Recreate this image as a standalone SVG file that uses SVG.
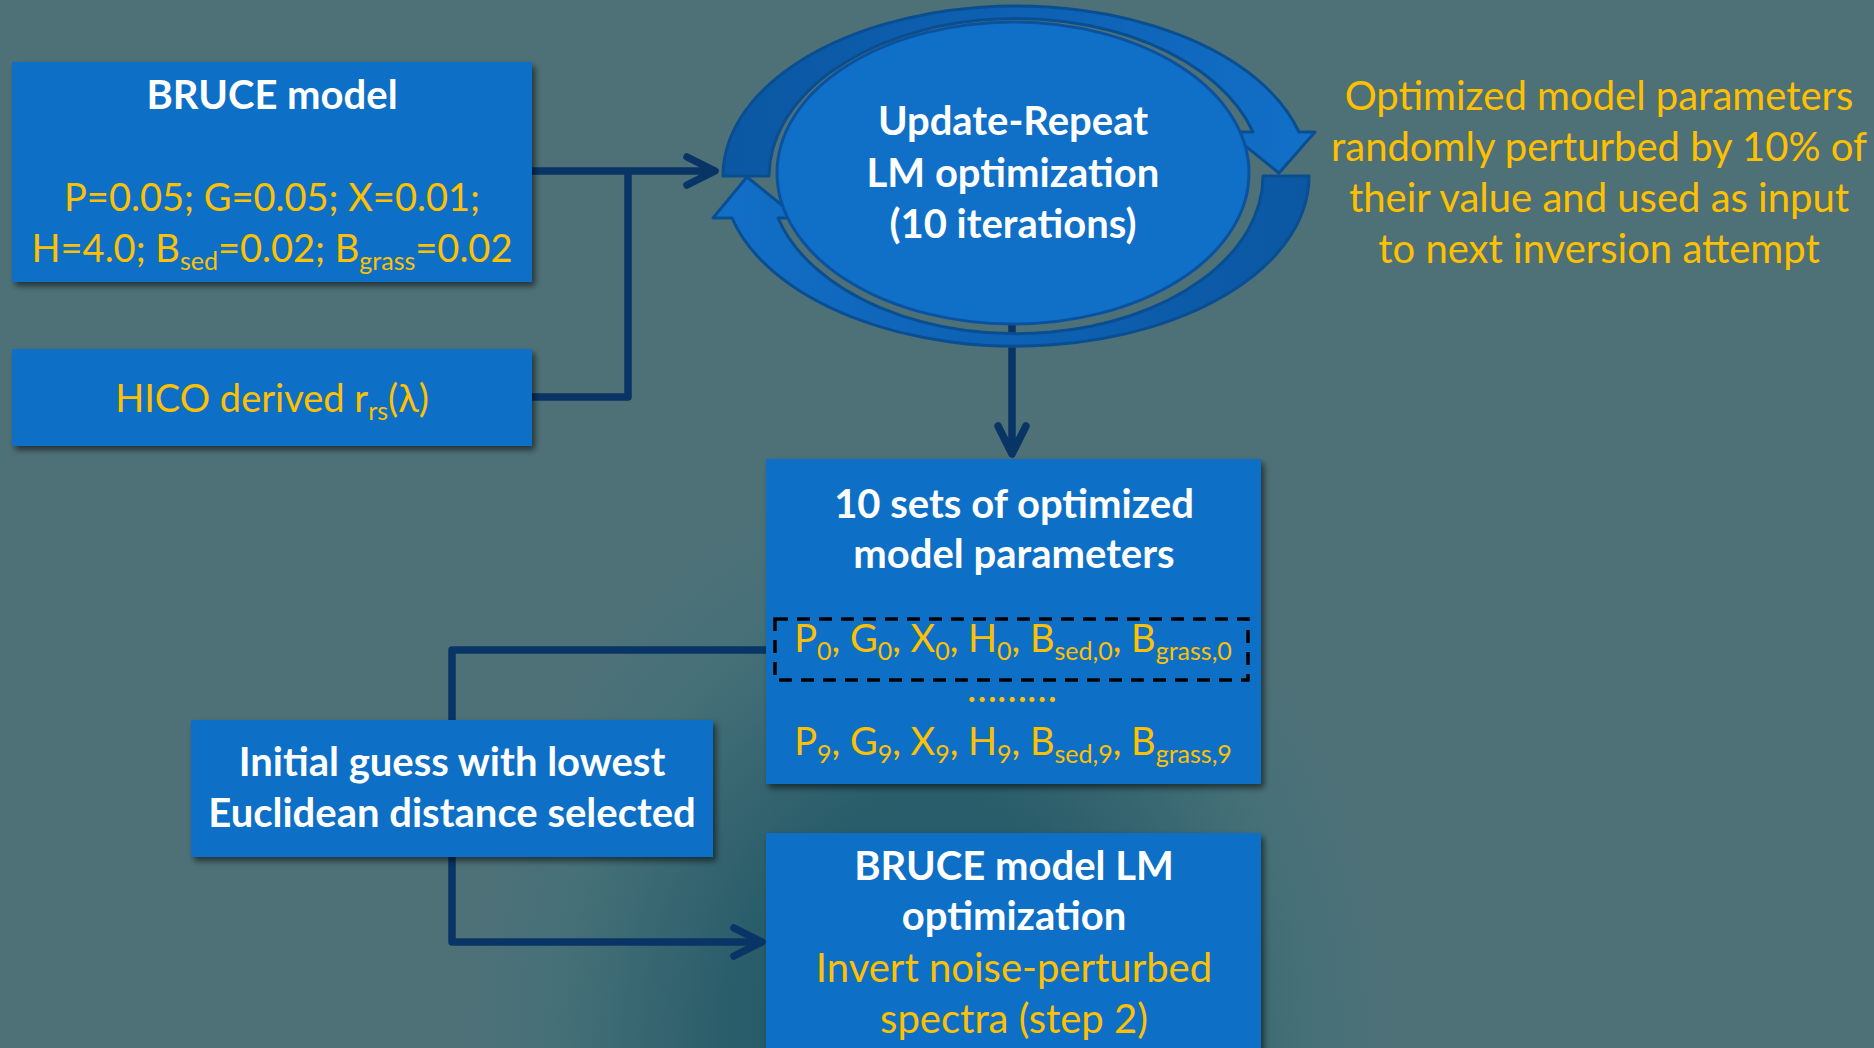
<svg xmlns="http://www.w3.org/2000/svg" width="1874" height="1048" viewBox="0 0 1874 1048">
<defs>
<radialGradient id="bgGlow" gradientUnits="userSpaceOnUse" cx="0" cy="0" r="1" gradientTransform="translate(930,1048) scale(470,580)">
<stop offset="0" stop-color="#1A5163"/>
<stop offset="0.45" stop-color="#2B5E6B"/>
<stop offset="0.8" stop-color="#467078"/>
<stop offset="1" stop-color="#4E7177"/>
</radialGradient>
<linearGradient id="arcTop" gradientUnits="userSpaceOnUse" x1="723" y1="0" x2="1315" y2="0">
<stop offset="0" stop-color="#0B57A2"/>
<stop offset="0.6" stop-color="#0E63B6"/>
<stop offset="1" stop-color="#1270C8"/>
</linearGradient>
<linearGradient id="arcBot" gradientUnits="userSpaceOnUse" x1="1315" y1="0" x2="713" y2="0">
<stop offset="0" stop-color="#0B57A2"/>
<stop offset="0.6" stop-color="#0E63B6"/>
<stop offset="1" stop-color="#1270C8"/>
</linearGradient>
<filter id="shadow" x="-10%" y="-10%" width="125%" height="130%">
<feGaussianBlur in="SourceAlpha" stdDeviation="3"/>
<feOffset dx="3" dy="4" result="b"/>
<feComponentTransfer><feFuncA type="linear" slope="0.55"/></feComponentTransfer>
<feMerge><feMergeNode/><feMergeNode in="SourceGraphic"/></feMerge>
</filter>
<marker id="chev" markerUnits="userSpaceOnUse" markerWidth="60" markerHeight="60" refX="0" refY="0" orient="auto" overflow="visible">
<path d="M -25,-14 L 3,0 L -25,14" fill="none" stroke="#083565" stroke-width="7.5" stroke-linecap="round" stroke-linejoin="round"/>
</marker>
<style>
.box{fill:#1070C6;filter:url(#shadow);}
.t{font-family:Lato,"Open Sans","Liberation Sans",sans-serif;font-size:40px;text-anchor:middle;}
.s{font-size:38px;}
.w{fill:#FFFFFF;font-weight:bold;}
.y{fill:#FFC000;}
.conn{fill:none;stroke:#083565;stroke-width:7.5;stroke-linejoin:round;}
.arc{stroke:#0A4E92;stroke-width:3;stroke-linejoin:round;}
</style>
</defs>
<rect x="0" y="0" width="1874" height="1048" fill="#4E7177"/>
<rect x="0" y="0" width="1874" height="1048" fill="url(#bgGlow)"/>

<g id="connectors">
<path class="conn" d="M 532,171 H 712" marker-end="url(#chev)"/>
<path class="conn" d="M 532,397 H 628 V 171"/>
<path class="conn" d="M 1012,322 V 451" marker-end="url(#chev)"/>
<path class="conn" d="M 776,650 H 452 V 720"/>
<path class="conn" d="M 452,856 V 942 H 759" marker-end="url(#chev)"/>
</g>

<g id="bruce-model">
<rect class="box" x="12" y="62" width="520" height="220"/>
<text class="t w" x="272" y="109" font-size="39">BRUCE model</text>
<text class="t y s" x="272" y="211">P=0.05; G=0.05; X=0.01;</text>
<text class="t y s" x="272" y="262">H=4.0; B<tspan font-size="25" dy="8">sed</tspan><tspan dy="-8">=0.02; B</tspan><tspan font-size="25" dy="8">grass</tspan><tspan dy="-8">=0.02</tspan></text>
</g>

<g id="hico">
<rect class="box" x="12" y="349" width="520" height="97"/>
<text class="t y s" x="272" y="412">HICO derived r<tspan font-size="25" dy="8">rs</tspan><tspan dy="-8">(λ)</tspan></text>
</g>

<g id="update-repeat">
<path class="arc" fill="url(#arcTop)" d="M 723,176 A 293,170 0 0 1 1299,132 L 1315,132 L 1279,173 L 1228,132 L 1253,132 A 247,158 0 0 0 769,176 Z"/>
<path class="arc" fill="url(#arcBot)" d="M 1263,176 L 1309,176 A 293,170 0 0 1 732,218 L 713,218 L 747,177 L 798,218 L 778,218 A 247,158 0 0 0 1263,176 Z"/>
<ellipse cx="1013" cy="173" rx="236" ry="151" fill="#1070C8" stroke="#0A52A0" stroke-width="3"/>
<text class="t w" x="1013" y="135">Update-Repeat</text>
<text class="t w" x="1013" y="187">LM optimization</text>
<text class="t w" x="1013" y="238">(10 iterations)</text>
</g>

<g id="perturb-note">
<text class="t y" x="1599" y="110">Optimized model parameters</text>
<text class="t y" x="1599" y="161">randomly perturbed by 10% of</text>
<text class="t y" x="1599" y="212">their value and used as input</text>
<text class="t y" x="1599" y="263">to next inversion attempt</text>
</g>

<g id="optimized-sets">
<rect class="box" x="766" y="459" width="495" height="325"/>
<text class="t w" x="1014" y="518">10 sets of optimized</text>
<text class="t w" x="1014" y="568">model parameters</text>
<rect x="775" y="619" width="473" height="61" fill="none" stroke="#000000" stroke-width="3.5" stroke-dasharray="13,9"/>
<text class="t y s" x="1013" y="652">P<tspan font-size="25" dy="8">0</tspan><tspan dy="-8">, G</tspan><tspan font-size="25" dy="8">0</tspan><tspan dy="-8">, X</tspan><tspan font-size="25" dy="8">0</tspan><tspan dy="-8">, H</tspan><tspan font-size="25" dy="8">0</tspan><tspan dy="-8">, B</tspan><tspan font-size="25" dy="8">sed,0</tspan><tspan dy="-8">, B</tspan><tspan font-size="25" dy="8">grass,0</tspan></text>
<text class="t y" x="1012" y="702">………</text>
<text class="t y s" x="1013" y="755">P<tspan font-size="25" dy="8">9</tspan><tspan dy="-8">, G</tspan><tspan font-size="25" dy="8">9</tspan><tspan dy="-8">, X</tspan><tspan font-size="25" dy="8">9</tspan><tspan dy="-8">, H</tspan><tspan font-size="25" dy="8">9</tspan><tspan dy="-8">, B</tspan><tspan font-size="25" dy="8">sed,9</tspan><tspan dy="-8">, B</tspan><tspan font-size="25" dy="8">grass,9</tspan></text>
</g>

<g id="initial-guess">
<rect class="box" x="191" y="720" width="522" height="137"/>
<text class="t w" x="452" y="776">Initial guess with lowest</text>
<text class="t w" x="452" y="827">Euclidean distance selected</text>
</g>

<g id="lm-optimization">
<rect class="box" x="766" y="833" width="495" height="230"/>
<text class="t w" x="1014" y="880">BRUCE model LM</text>
<text class="t w" x="1014" y="930">optimization</text>
<text class="t y" x="1014" y="982">Invert noise-perturbed</text>
<text class="t y" x="1014" y="1033">spectra (step 2)</text>
</g>
</svg>
